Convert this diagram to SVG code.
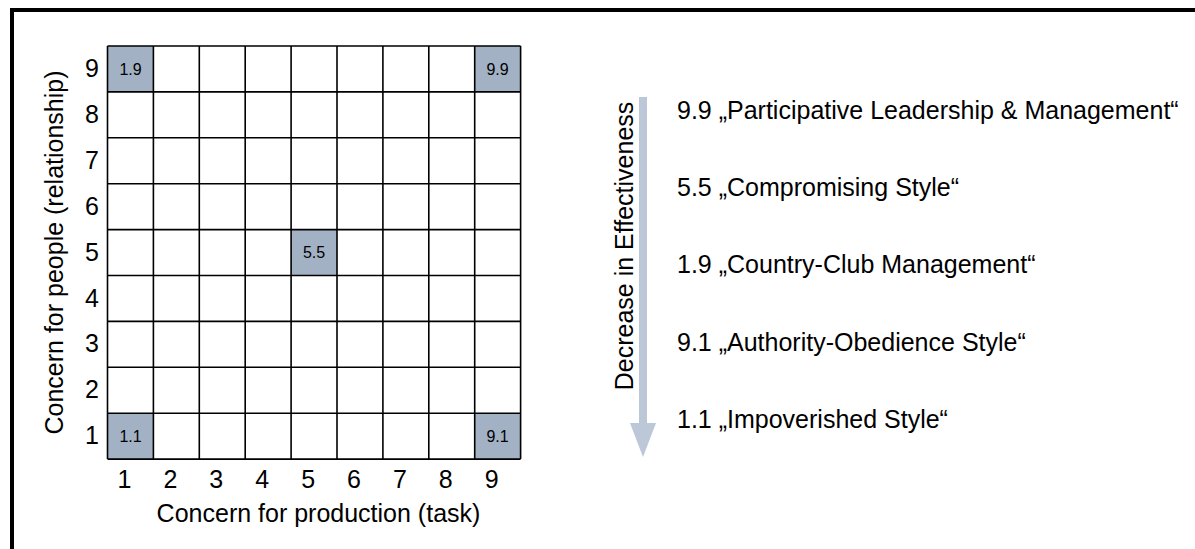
<svg xmlns="http://www.w3.org/2000/svg" width="1195" height="549" viewBox="0 0 1195 549">
<style>
text{font-family:"Liberation Sans",Arial,sans-serif;fill:#000}
.ax{font-size:25px}
.lbl{font-size:25px}
.cl{font-size:16px;text-anchor:middle}
.hl{fill:#a3b1c5}
.gl{stroke:#000;stroke-width:1.6;fill:none}
</style>
<rect width="1195" height="549" fill="#fff"/>
<path id="frame" d="M12,549 V10 H1195" fill="none" stroke="#000" stroke-width="4"/>
<g id="grid">
<rect class="hl" x="107.5" y="46" width="45.9" height="45.9"/>
<rect class="hl" x="474.7" y="46" width="45.9" height="45.9"/>
<rect class="hl" x="291.1" y="229.6" width="45.9" height="45.9"/>
<rect class="hl" x="107.5" y="413.2" width="45.9" height="45.9"/>
<rect class="hl" x="474.7" y="413.2" width="45.9" height="45.9"/>
<path class="gl" d="M107.5,46V459.1M153.4,46V459.1M199.3,46V459.1M245.2,46V459.1M291.1,46V459.1M337,46V459.1M382.9,46V459.1M428.8,46V459.1M474.7,46V459.1M520.6,46V459.1M107.5,46H520.6M107.5,91.9H520.6M107.5,137.8H520.6M107.5,183.7H520.6M107.5,229.6H520.6M107.5,275.5H520.6M107.5,321.4H520.6M107.5,367.3H520.6M107.5,413.2H520.6M107.5,459.1H520.6"/>
</g>
<g id="cell-labels">
<text class="cl" x="130.5" y="74.7">1.9</text>
<text class="cl" x="497.6" y="74.7">9.9</text>
<text class="cl" x="314" y="258.3">5.5</text>
<text class="cl" x="130.5" y="441.9">1.1</text>
<text class="cl" x="497.6" y="441.9">9.1</text>
</g>
<g id="y-axis" class="ax" text-anchor="middle">
<text x="92" y="77">9</text>
<text x="92" y="122.9">8</text>
<text x="92" y="168.8">7</text>
<text x="92" y="214.7">6</text>
<text x="92" y="260.6">5</text>
<text x="92" y="306.5">4</text>
<text x="92" y="352.4">3</text>
<text x="92" y="398.3">2</text>
<text x="92" y="444.2">1</text>
<text transform="translate(63,252.5) rotate(-90)">Concern for people (relationship)</text>
</g>
<g id="x-axis" class="ax" text-anchor="middle">
<text x="124.5" y="488">1</text>
<text x="170.4" y="488">2</text>
<text x="216.3" y="488">3</text>
<text x="262.2" y="488">4</text>
<text x="308.1" y="488">5</text>
<text x="354" y="488">6</text>
<text x="399.9" y="488">7</text>
<text x="445.8" y="488">8</text>
<text x="491.7" y="488">9</text>
<text x="318.5" y="521.5">Concern for production (task)</text>
</g>
<g id="connectors">
<path id="effectiveness-arrow" d="M639,97 H647 V423 H656 L643,457 L630,423 H639 Z" fill="#bcc7d7"/>
</g>
<g id="arrow-label">
<text class="lbl" text-anchor="middle" transform="translate(633,246) rotate(-90)">Decrease in Effectiveness</text>
</g>
<g id="styles" class="lbl">
<text x="677" y="118.7">9.9 „Participative Leadership &amp; Management“</text>
<text x="677" y="196">5.5 „Compromising Style“</text>
<text x="677" y="273.3">1.9 „Country-Club Management“</text>
<text x="677" y="350.6">9.1 „Authority-Obedience Style“</text>
<text x="677" y="427.9">1.1 „Impoverished Style“</text>
</g>
</svg>
